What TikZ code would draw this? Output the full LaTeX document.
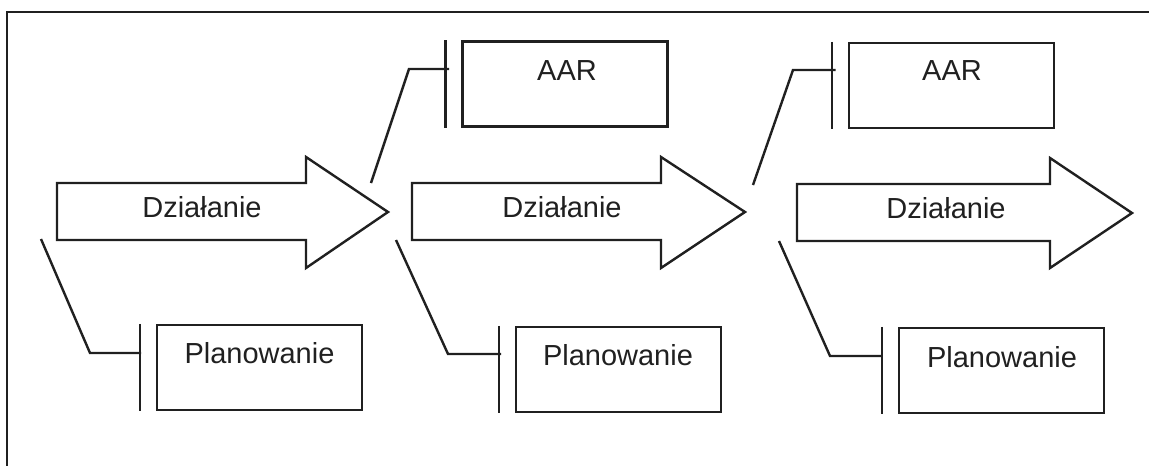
\documentclass[tikz,border=0pt]{standalone}
\usepackage{fontspec}
\setmainfont{Liberation Sans}
\definecolor{inkc}{HTML}{202020}
\begin{document}
\begin{tikzpicture}[x=1pt,y=-1pt,
  line width=2.4pt, line join=miter,
  box/.style={draw=inkc, rectangle, minimum width=205pt, minimum height=85pt, inner sep=0pt},
  lbl/.style={anchor=base, inner sep=0pt, text=inkc, font=\fontsize{29}{34}\selectfont},
  flow/.style={draw=inkc, fill=white},
  wire/.style={draw=inkc},
]
% page
\fill[white] (0,0) rectangle (1149,466);
\useasboundingbox (0,0) rectangle (1149,466);
\draw[inkc, line width=2.6pt] (1149,12) -- (7,12) -- (7,466);

% action arrows
\draw[flow] (57,183) -- (306,183) -- (306,157) -- (388,212) -- (306,268) -- (306,240) -- (57,240) -- cycle;
\draw[flow] (412,183) -- (661,183) -- (661,157) -- (745,212) -- (661,268) -- (661,240) -- (412,240) -- cycle;
\draw[flow] (797,184) -- (1050,184) -- (1050,158) -- (1132,213) -- (1050,268) -- (1050,241) -- (797,241) -- cycle;
\node[lbl] (dz1) at (202,217) {Działanie};
\node[lbl] (dz2) at (562,217) {Działanie};
\node[lbl] (dz3) at (946,218) {Działanie};

% boxes
\node[box] (aar1) at (565,84) {};
\node[box] (aar2) at (951.5,85.5) {};
\node[box] (plan1) at (259.5,367.5) {};
\node[box] (plan2) at (618.5,369.5) {};
\node[box] (plan3) at (1001.5,370.5) {};
\node[lbl] (aar1t) at (567,80) {AAR};
\node[lbl] (aar2t) at (952,80) {AAR};
\node[lbl] (plan1t) at (259.5,363) {Planowanie};
\node[lbl] (plan2t) at (618,365) {Planowanie};
\node[lbl] (plan3t) at (1002,367) {Planowanie};

% bars in front of the boxes
\foreach \b in {aar1,aar2,plan1,plan2,plan3}
  \draw[wire] ([xshift=-16pt]\b.north west) -- ([xshift=-16pt]\b.south west);

% connector ends
\coordinate (aar1in) at (449,69);
\coordinate (aar2in) at (835.5,70);
\coordinate (plan1in) at (141,353);
\coordinate (plan2in) at (501,354);
\coordinate (plan3in) at (882,356);
\coordinate (a2up) at (371,183);
\coordinate (a3up) at (753,185);
\coordinate (a1dn) at (41,239);
\coordinate (a2dn) at (396,240);
\coordinate (a3dn) at (779,241);

% connectors
\draw[wire] (a2up) -- (409,69) -- (aar1in);
\draw[wire] (a3up) -- (793,70) -- (aar2in);
\draw[wire] (a1dn) -- (90,353) -- (plan1in);
\draw[wire] (a2dn) -- (448,354) -- (plan2in);
\draw[wire] (a3dn) -- (830,356) -- (plan3in);
\end{tikzpicture}
\end{document}
